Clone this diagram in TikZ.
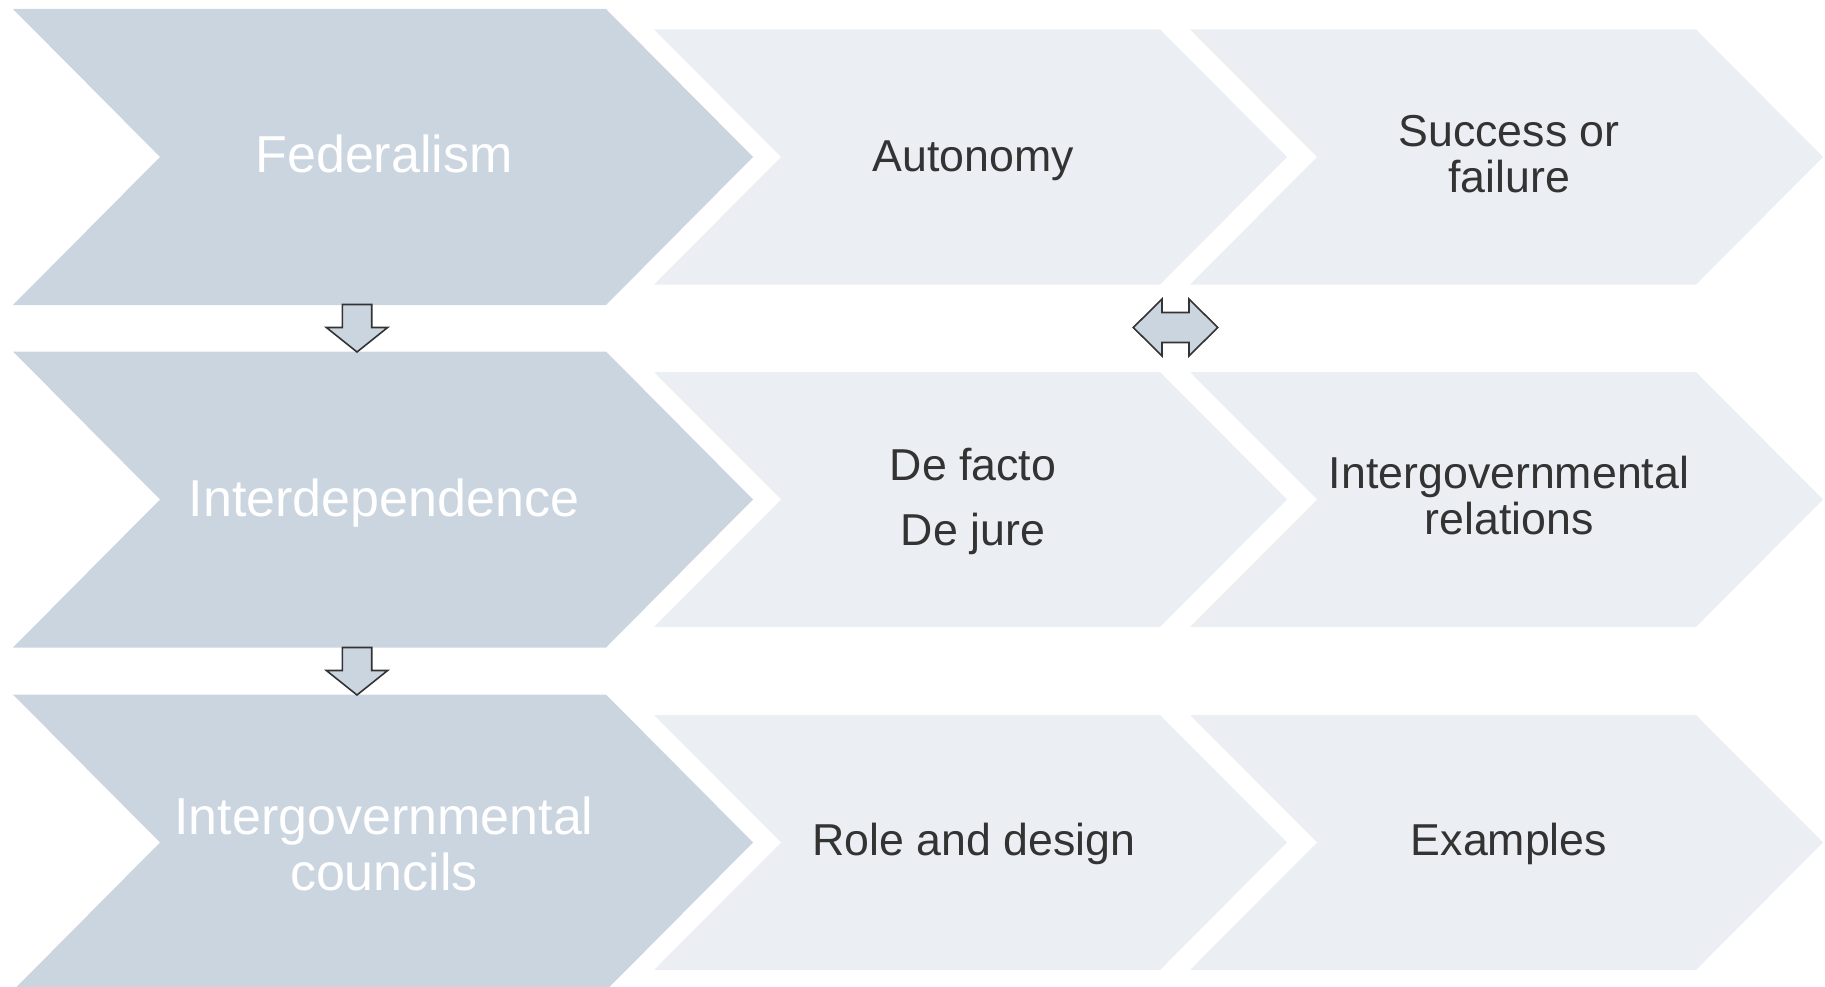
\documentclass[tikz,border=0pt]{standalone}
\usepackage{fontspec}
\setmainfont{Liberation Sans}
\definecolor{darkfill}{HTML}{CBD5E0}
\definecolor{lightfill}{HTML}{EBEFF3}
\definecolor{txtgray}{HTML}{333333}
\definecolor{arrowline}{HTML}{333333}
\newcommand\twoline[2]{\vtop{\halign{\hfil##\hfil\cr#1\cr#2\cr}}}
\tikzset{
  darkchev/.style={fill=darkfill},
  lightchev/.style={fill=lightfill},
  darktext/.style={text=white, font=\fontsize{52}{56}\selectfont, inner sep=0pt, anchor=base},
  lighttext/.style={text=txtgray, font=\fontsize{44.7}{46}\selectfont, inner sep=0pt, anchor=base},
  blockarrow/.style={fill=darkfill, draw=arrowline, line width=1.6pt, line join=miter}
}
\begin{document}
\begin{tikzpicture}[x=1pt, y=-1pt]
\useasboundingbox (0,0) rectangle (1825,987);
\clip (0,0) rectangle (1825,987);
% chevrons
\foreach \yc in {157, 499.5, 842.5} {
  \fill[darkchev] (13,{\yc-148}) -- (606,{\yc-148}) -- (753,\yc) -- (606,{\yc+148}) -- (13,{\yc+148}) -- (160,\yc) -- cycle;
  \fill[lightchev] (654,{\yc-127.5}) -- (1160,{\yc-127.5}) -- (1287,\yc) -- (1160,{\yc+127.5}) -- (654,{\yc+127.5}) -- (781,\yc) -- cycle;
  \fill[lightchev] (1190,{\yc-127.5}) -- (1696,{\yc-127.5}) -- (1823,\yc) -- (1696,{\yc+127.5}) -- (1190,{\yc+127.5}) -- (1317,\yc) -- cycle;
}
% texts
\node[darktext] (fed) at (384,172.7) {Federalism};
\node[darktext] (inter) at (384,516) {Interdependence};
\node[darktext] (igc) at (384,834.8) {\twoline{Intergovernmental}{councils}};
\node[lighttext] (auto) at (973,171.7) {Autonomy};
\node[lighttext] (succ) at (1509,146.7) {\twoline{Success or}{failure}};
\node[lighttext, font=\fontsize{44.7}{64.3}\selectfont] (facto) at (973,480.7) {\twoline{De facto}{De jure}};
\node[lighttext] (igr) at (1509,488.3) {\twoline{Intergovernmental}{relations}};
\node[lighttext] (role) at (974,855) {Role and design};
\node[lighttext] (ex) at (1509,855) {Examples};
% block arrows
\coordinate (d1) at (357,304.5);
\coordinate (d2) at (357,647.5);
\coordinate (dd) at (1175.5,327.5);
\foreach \c in {d1,d2} {
  \draw[blockarrow, shift={(\c)}] (-14.7,0) -- (14.7,0) -- (14.7,23) -- (30.6,23) -- (0,47.5) -- (-30.6,23) -- (-14.7,23) -- cycle;
}
\draw[blockarrow, shift={(dd)}] (-42.2,0) -- (-13.5,-28.5) -- (-13.5,-15) -- (13.5,-15) -- (13.5,-28.5) -- (42.2,0) -- (13.5,28.5) -- (13.5,15) -- (-13.5,15) -- (-13.5,28.5) -- cycle;
\end{tikzpicture}
\end{document}
